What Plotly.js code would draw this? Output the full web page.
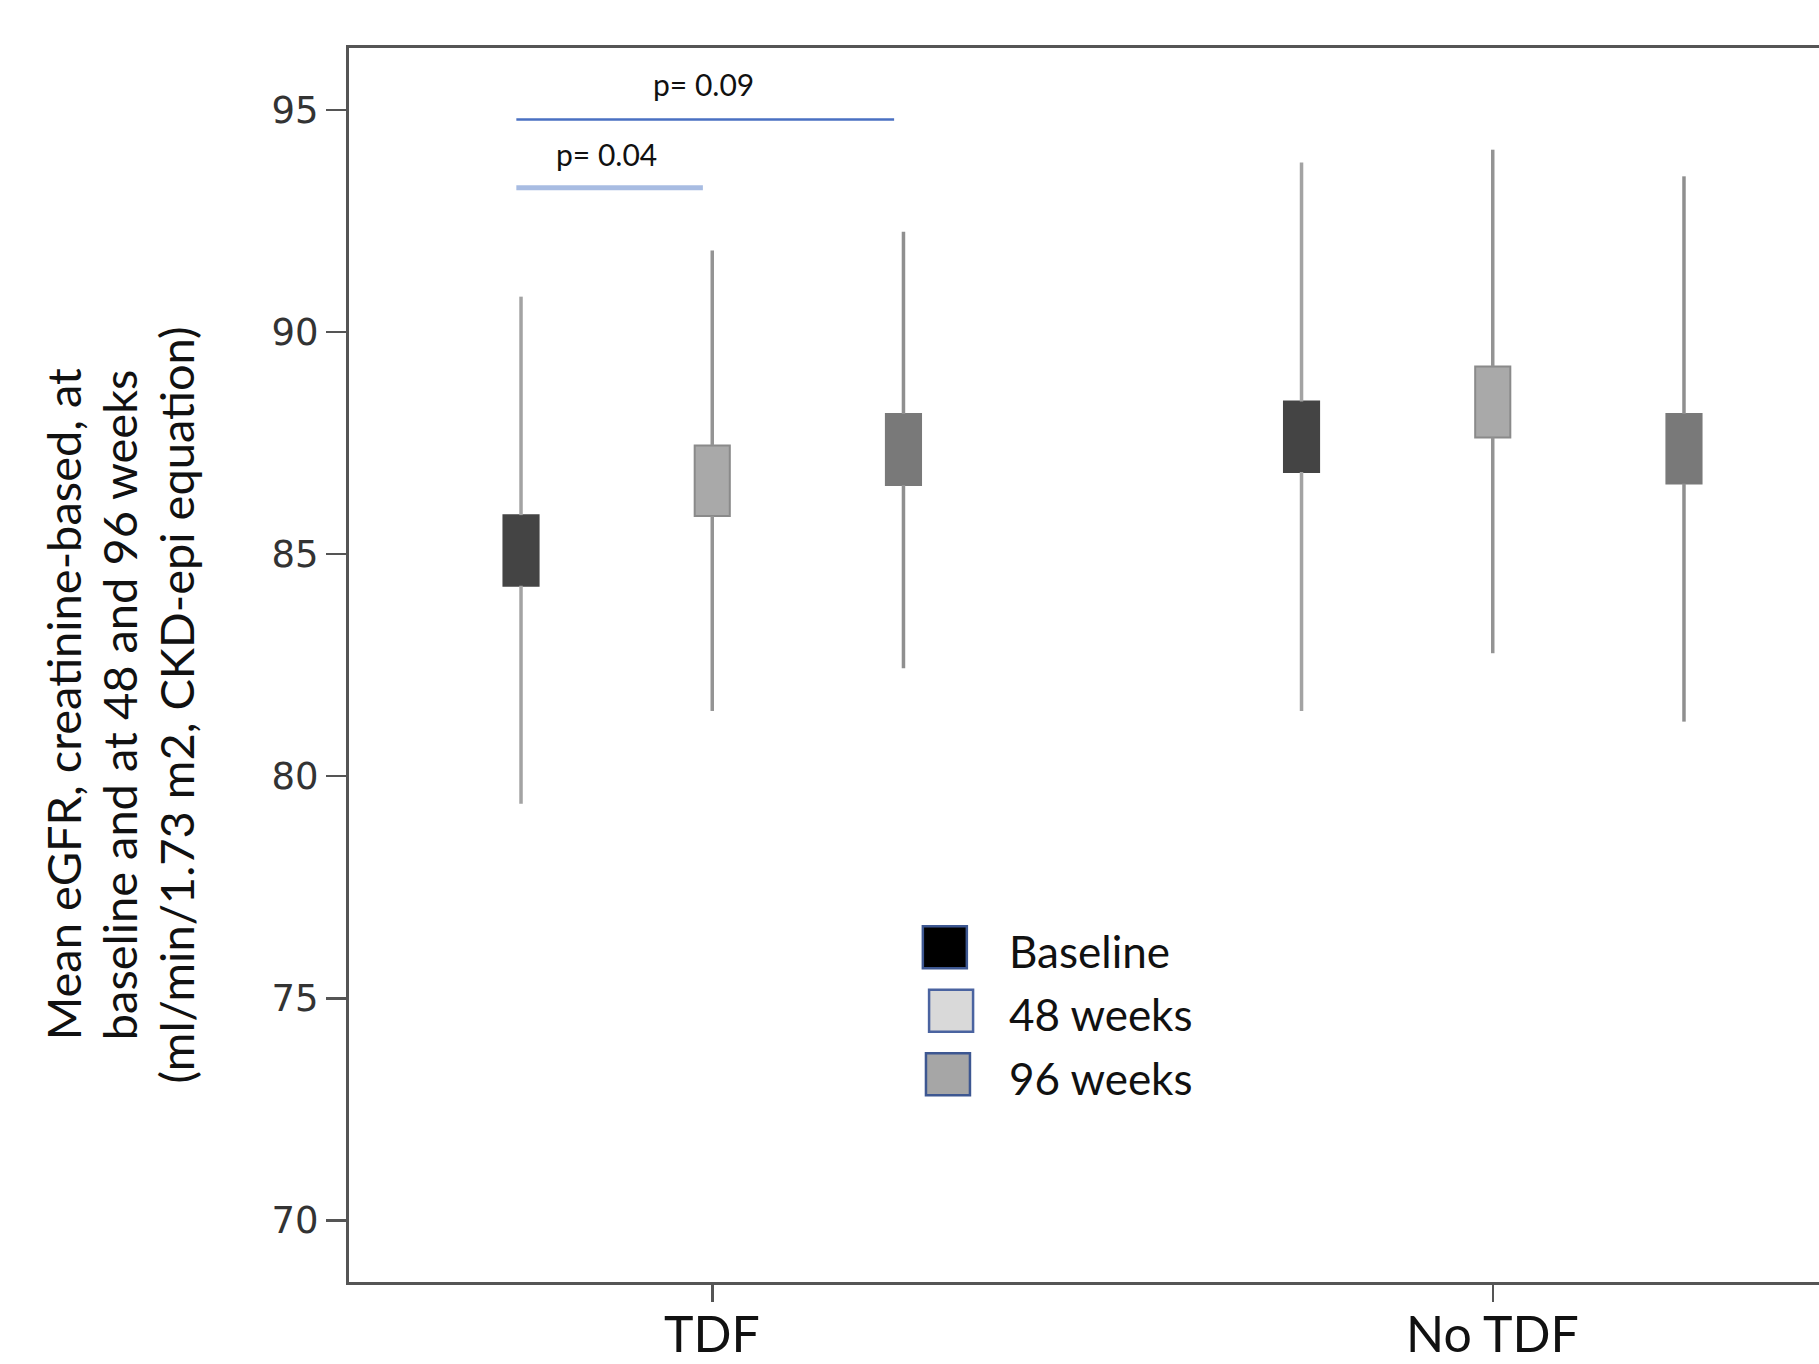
<!DOCTYPE html>
<html>
<head>
<meta charset="utf-8">
<script src="https://cdn.plot.ly/plotly-3.0.1.min.js"></script>
<style>
  html, body { margin: 0; padding: 0; background: #fff; overflow: hidden; }
  #chart { width: 1880px; height: 1364px; }
</style>
</head>
<body>
<div id="chart"></div>
<script>
// ---- data ----
const groups = ['TDF', 'No TDF'];
const seriesNames = ['Baseline', '48 weeks', '96 weeks'];
// box (inner interval) bottom / top
const boxLowBaseline = [84.29, 86.85];
const boxHighBaseline = [85.88, 88.44];
const boxLow48 = [85.86, 87.63];
const boxHigh48 = [87.45, 89.23];
const boxLow96 = [86.56, 86.59];
const boxHigh96 = [88.16, 88.16];
// whisker ends
const whiskLowBaseline = [79.38, 81.47];
const whiskHighBaseline = [90.80, 93.82];
const whiskLow48 = [81.47, 82.77];
const whiskHigh48 = [91.84, 94.11];
const whiskLow96 = [82.43, 81.23];
const whiskHigh96 = [92.26, 93.51];
// comparisons (TDF group)
const pLabels = ['p= 0.04', 'p= 0.09'];
const pFrom = [0, 0];
const pTo = [1, 2];
const yTicks = [70, 75, 80, 85, 90, 95];
const yTitleLines = ['Mean eGFR, creatinine-based, at', 'baseline and at 48 and 96 weeks', '(ml/min/1.73 m2, CKD-epi equation)'];

// ---- styling ----
const offsets = [-0.245, 0, 0.245];
const boxFill = ['#444444', '#a9a9a9', '#797979'];
const boxLine = ['#444444', '#8a8a8a', '#797979'];
const whiskColor = ['#a3a3a3', '#949494', '#8f8f8f'];
const legendFill = ['#000000', '#d9d9d9', '#a6a6a6'];
const legendBorder = ['#3d5791', '#4a63a0', '#3d5791'];
const pLineColor = ['#a8bce2', '#4a70c2'];
const pLineWidth = [5, 2.5];
const pLineY = [93.25, 94.79];
const pTextY = [94.02, 95.60];

const boxLow = [boxLowBaseline, boxLow48, boxLow96];
const boxHigh = [boxHighBaseline, boxHigh48, boxHigh96];
const whiskLow = [whiskLowBaseline, whiskLow48, whiskLow96];
const whiskHigh = [whiskHighBaseline, whiskHigh48, whiskHigh96];

const traces = [];
// boxes as floating bars
seriesNames.forEach((name, s) => {
  traces.push({
    type: 'bar',
    name: name,
    x: groups.map((g, i) => i + offsets[s]),
    base: boxLow[s],
    y: boxLow[s].map((lo, i) => boxHigh[s][i] - lo),
    width: groups.map(() => 0.045),
    marker: { color: boxFill[s], line: { color: boxLine[s], width: 2 } },
    showlegend: false,
    hoverinfo: 'skip'
  });
});
// whiskers
seriesNames.forEach((name, s) => {
  const xs = [], ys = [];
  groups.forEach((g, i) => {
    const x = i + offsets[s];
    xs.push(x, x, null, x, x, null);
    ys.push(whiskLow[s][i], boxLow[s][i], null, boxHigh[s][i], whiskHigh[s][i], null);
  });
  traces.push({
    type: 'scatter', mode: 'lines', x: xs, y: ys,
    line: { color: whiskColor[s], width: 3.5 },
    showlegend: false, hoverinfo: 'skip'
  });
});

const shapes = [];
const annotations = [];

// p-value comparison lines
pLabels.forEach((lab, k) => {
  const x0 = offsets[pFrom[k]] - 0.006;
  const x1 = offsets[pTo[k]] - 0.012;
  shapes.push({ type: 'line', xref: 'x', yref: 'y', x0: x0, x1: x1, y0: pLineY[k], y1: pLineY[k],
    line: { color: pLineColor[k], width: pLineWidth[k] } });
  annotations.push({ xref: 'x', yref: 'y', x: x0 + (k === 0 ? 0.115 : 0.24), y: pTextY[k], text: lab, showarrow: false,
    font: { family: 'Lato, sans-serif', size: 30, color: '#111' }, xanchor: 'center', yanchor: 'middle' });
});

// custom legend
const legX = 0.302, legTextX = 0.377, legY0 = 76.15, legStep = 1.43;
const legDx = [-0.004, 0.004, 0.0];
seriesNames.forEach((name, s) => {
  const yc = legY0 - s * legStep;
  shapes.push({ type: 'rect', xref: 'x', yref: 'y', xsizemode: 'pixel', ysizemode: 'pixel',
    xanchor: legX + legDx[s], yanchor: yc, x0: -22, x1: 22, y0: -21, y1: 21,
    fillcolor: legendFill[s], line: { color: legendBorder[s], width: 2.5 } });
  annotations.push({ xref: 'x', yref: 'y', x: legTextX, y: yc - 0.08, text: name, showarrow: false,
    xanchor: 'left', yanchor: 'middle', font: { family: 'Lato, sans-serif', size: 44, color: '#111' } });
});

// category labels under the x ticks
groups.forEach((g, i) => {
  annotations.push({ xref: 'x', yref: 'paper', x: i, y: -0.0415, text: g, showarrow: false,
    xanchor: 'center', yanchor: 'middle', font: { family: 'Lato, sans-serif', size: 50, color: '#111' } });
});

// y-axis title, one annotation per line
const titleX = [-0.1892, -0.1521, -0.1142];
yTitleLines.forEach((line, k) => {
  annotations.push({ xref: 'paper', yref: 'paper', x: titleX[k], y: 0.468, textangle: -90,
    text: line, showarrow: false, xanchor: 'center', yanchor: 'middle',
    font: { family: 'Lato, sans-serif', size: 47, color: '#111' } });
});

const layout = {
  width: 1880, height: 1364,
  margin: { l: 349, r: 24, t: 48, b: 82 },
  paper_bgcolor: '#ffffff', plot_bgcolor: '#ffffff',
  barmode: 'overlay',
  showlegend: false,
  xaxis: {
    range: [-0.4654, 1.4654], tickmode: 'array', tickvals: groups.map((g, i) => i), ticktext: groups,
    showticklabels: false,
    showgrid: false, zeroline: false, showline: true, mirror: true, linecolor: '#555', linewidth: 3,
    ticks: 'outside', ticklen: 17, tickwidth: 2.5, tickcolor: '#555'
  },
  yaxis: {
    range: [68.61, 96.40], tickmode: 'array', tickvals: yTicks, ticktext: yTicks.map(String),
    showgrid: false, zeroline: false, showline: true, mirror: true, linecolor: '#555', linewidth: 3,
    ticks: 'outside', ticklen: 20, tickwidth: 2.5, tickcolor: '#555',
    tickfont: { family: 'DejaVu Sans, sans-serif', size: 37, color: '#333' }
  },
  shapes: shapes,
  annotations: annotations
};

Plotly.newPlot('chart', traces, layout, { displayModeBar: false, staticPlot: true });
</script>
</body>
</html>
